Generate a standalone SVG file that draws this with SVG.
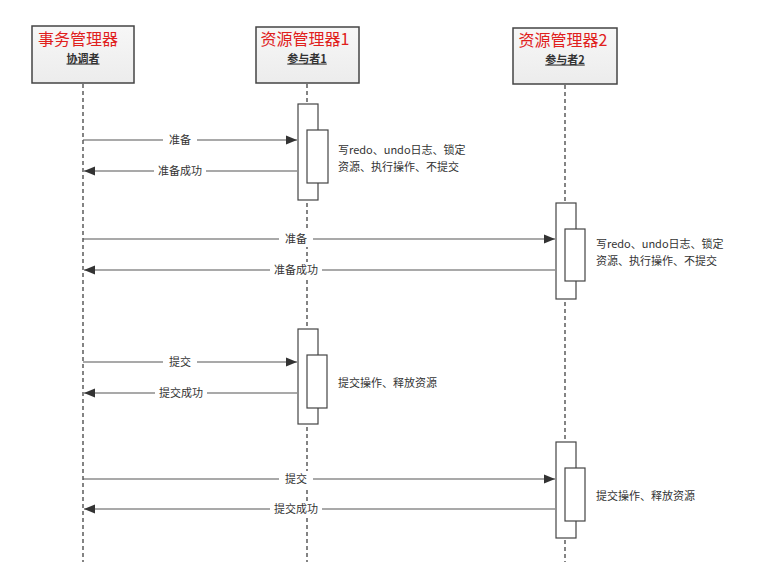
<svg xmlns="http://www.w3.org/2000/svg" width="762" height="585" viewBox="0 0 762 585">
<defs>
<linearGradient id="hdr" x1="0" y1="0" x2="0" y2="1">
<stop offset="0" stop-color="#f7f7f7"/>
<stop offset="1" stop-color="#ececec"/>
</linearGradient>
<marker id="ah" markerUnits="userSpaceOnUse" markerWidth="12" markerHeight="10" refX="11" refY="5" orient="auto">
<path d="M0,0.5 L11,5 L0,9.5 Z" fill="#333"/>
</marker>
<style>
.box{fill:url(#hdr);stroke:#444;stroke-width:1.5}
.title{font-family:"Noto Sans CJK SC","Liberation Serif",serif;font-size:16px;fill:#e0201c;text-anchor:middle}
.sub{font-family:"Noto Sans CJK SC","Liberation Sans",sans-serif;font-size:11px;font-weight:bold;fill:#333;text-anchor:middle;text-decoration:underline}
.life{stroke:#333;stroke-width:1.2;stroke-dasharray:4,3;fill:none}
.act{fill:#fff;stroke:#444;stroke-width:1.2}
.msg{stroke:#555;stroke-width:1.2;fill:none}
.lbl{font-family:"Noto Sans CJK SC","Liberation Sans",sans-serif;font-size:11px;fill:#333;text-anchor:middle}
.lblbg{fill:#fff}
.note{font-family:"Noto Sans CJK SC","Liberation Sans",sans-serif;font-size:11px;fill:#333}
</style>
</defs>
<rect width="762" height="585" fill="#fff"/>

<g id="lifelines">
<line class="life" x1="83" y1="84" x2="83" y2="562"/>
<line class="life" x1="307" y1="84" x2="307" y2="562"/>
<line class="life" x1="565" y1="85" x2="565" y2="562"/>
</g>

<g id="coordinator">
<rect class="box" x="32" y="26" width="102" height="57"/>
<text class="title" x="78" y="44.5">事务管理器</text>
<text class="sub" x="83" y="62.5">协调者</text>
</g>

<g id="participant1">
<rect class="box" x="256" y="27" width="103" height="56"/>
<text class="title" x="305" y="44.5">资源管理器1</text>
<text class="sub" x="307" y="62.5">参与者1</text>
</g>

<g id="participant2">
<rect class="box" x="513" y="28" width="104" height="56"/>
<text class="title" x="563" y="45.5">资源管理器2</text>
<text class="sub" x="565" y="63.5">参与者2</text>
</g>

<g id="activation-p1-prepare">
<rect class="act" x="298" y="104" width="20" height="96"/>
<rect class="act" x="307" y="130" width="21" height="53"/>
<text class="note" x="338" y="154">写redo、undo日志、锁定</text>
<text class="note" x="338" y="171">资源、执行操作、不提交</text>
</g>

<g id="activation-p2-prepare">
<rect class="act" x="556" y="203" width="20" height="96"/>
<rect class="act" x="565" y="229" width="20" height="52"/>
<text class="note" x="596" y="248">写redo、undo日志、锁定</text>
<text class="note" x="596" y="265">资源、执行操作、不提交</text>
</g>

<g id="activation-p1-commit">
<rect class="act" x="298" y="329" width="20" height="95"/>
<rect class="act" x="307" y="355" width="20" height="53"/>
<text class="note" x="338" y="387">提交操作、释放资源</text>
</g>

<g id="activation-p2-commit">
<rect class="act" x="556" y="442" width="20" height="96"/>
<rect class="act" x="565" y="468" width="20" height="53"/>
<text class="note" x="596" y="500">提交操作、释放资源</text>
</g>

<g id="connectors">
<line class="msg" x1="83" y1="140" x2="297" y2="140" marker-end="url(#ah)"/>
<rect class="lblbg" x="163" y="132" width="34" height="16"/>
<text class="lbl" x="180" y="144">准备</text>

<line class="msg" x1="297" y1="171" x2="84" y2="171" marker-end="url(#ah)"/>
<rect class="lblbg" x="154" y="163" width="52" height="16"/>
<text class="lbl" x="180" y="175">准备成功</text>

<line class="msg" x1="83" y1="239" x2="555" y2="239" marker-end="url(#ah)"/>
<rect class="lblbg" x="279" y="231" width="34" height="16"/>
<text class="lbl" x="296" y="243">准备</text>

<line class="msg" x1="555" y1="270" x2="84" y2="270" marker-end="url(#ah)"/>
<rect class="lblbg" x="270" y="262" width="52" height="16"/>
<text class="lbl" x="296" y="274">准备成功</text>

<line class="msg" x1="83" y1="362" x2="297" y2="362" marker-end="url(#ah)"/>
<rect class="lblbg" x="163" y="354" width="34" height="16"/>
<text class="lbl" x="180" y="366">提交</text>

<line class="msg" x1="297" y1="393" x2="84" y2="393" marker-end="url(#ah)"/>
<rect class="lblbg" x="155" y="385" width="52" height="16"/>
<text class="lbl" x="181" y="397">提交成功</text>

<line class="msg" x1="83" y1="479" x2="555" y2="479" marker-end="url(#ah)"/>
<rect class="lblbg" x="279" y="471" width="34" height="16"/>
<text class="lbl" x="296" y="483">提交</text>

<line class="msg" x1="555" y1="509" x2="84" y2="509" marker-end="url(#ah)"/>
<rect class="lblbg" x="270" y="501" width="52" height="16"/>
<text class="lbl" x="296" y="513">提交成功</text>
</g>
</svg>
